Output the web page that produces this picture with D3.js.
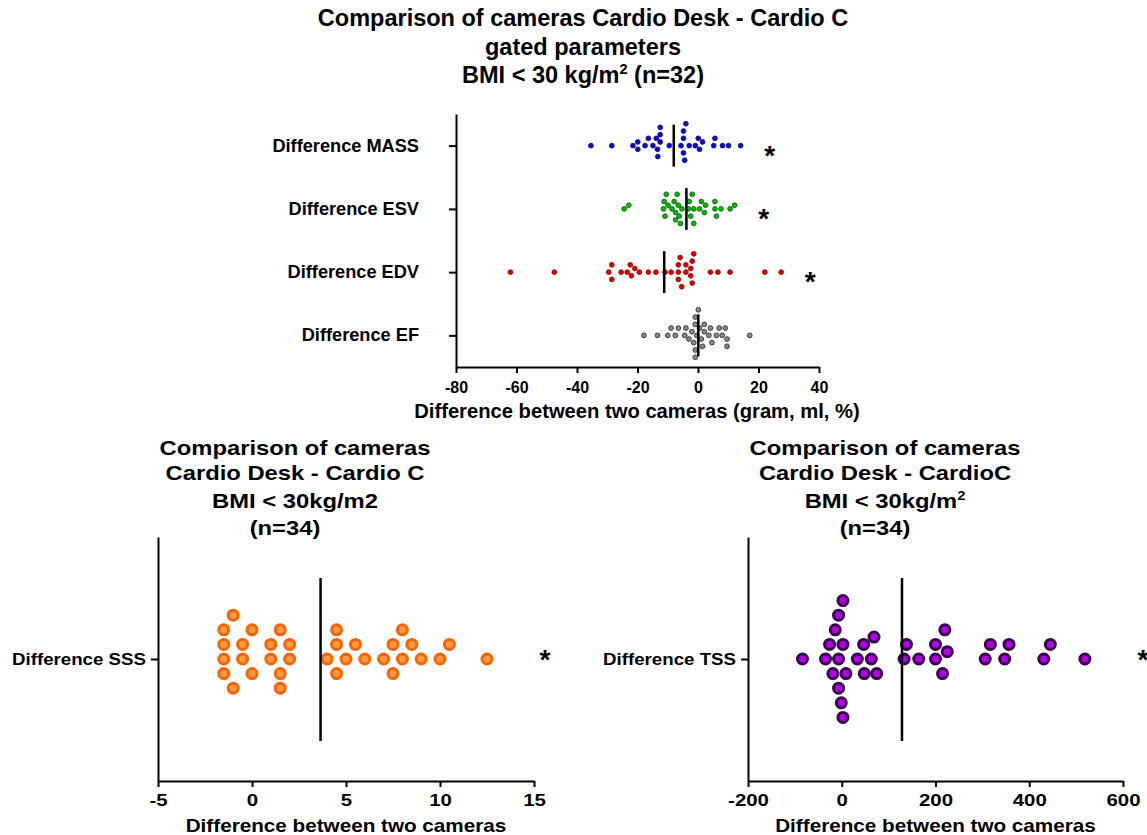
<!DOCTYPE html>
<html>
<head>
<meta charset="utf-8">
<script src="https://cdn.jsdelivr.net/npm/d3@7"></script>
<style>
  body { margin: 0; background: #fff; }
  text { font-family: "Liberation Sans", Arial, sans-serif; font-weight: bold; fill: #000; }
  .axis path, .axis line { stroke: #000; stroke-width: 2; }
</style>
</head>
<body>
<div class="root"></div>
<script>
// top panel: gated parameters
var topCategories = ['Difference MASS', 'Difference ESV', 'Difference EDV', 'Difference EF'];
var massValues = [-35.4, -28.5, -21.5, -19.9, -19.9, -17.5, -16.4, -14.9, -13.8, -13.4, -13.3,
  -12.5, -12.5, -12.5, -9.5, -5.6, -4.8, -4.4, -4.8, -4.8, -4.0, -2.9, -0.9, 0.1, 0.5, 1.5,
  5.2, 5.6, 8.1, 10.1, 14.1];
var esvValues = [-24.4, -22.9, -11.4, -11.2, -10.9, -10.5, -9.9, -8.6, -7.9, -7.4, -7.4, -6.9,
  -6.5, -6.2, -5.8, -5.3, -3.2, -2.9, -2.4, -1.9, -1.4, -1.4, 0.5, 1.1, 2.1, 2.5, 5.6, 5.6,
  6.1, 7.6, 10.6, 12.1];
var edvValues = [-62, -47.5, -29.5, -28.5, -28.5, -25.4, -23.4, -22.4, -22.0, -20.9, -19.4,
  -16.4, -13.9, -10.9, -8.9, -6.5, -6.5, -6.5, -5.9, -5.4, -4.0, -4.0, -2.4, -2.4, -1.9, -1.9,
  -1.4, 4.1, 6.6, 10.6, 22.1, 27.5];
var efValues = [-17.9, -13.4, -10.0, -8.9, -7.5, -6.5, -4.4, -4.0, -3.0, -2.0, -1.4, -0.9, -0.9,
  -0.9, -0.9, -0.4, 0.1, 0.5, 1.1, 1.5, 2.1, 2.1, 3.6, 4.1, 4.6, 6.1, 7.0, 8.0, 9.0, 9.6, 9.6, 17.1];
var topSeries = [massValues, esvValues, edvValues, efValues];
var topFills = ['#0a0ad2', '#0cb40c', '#e00000', '#8a8a8a'];
var topStrokes = ['#000080', '#005f00', '#8c0000', '#1e1e1e'];
var topTicks = [-80, -60, -40, -20, 0, 20, 40];

// bottom panels
var sssValues = [-1, -1.5, 0, 1.5, 1, -1.5, -0.5, 2, -1.5, -0.5, 1, 2, 1.5, -1.5, 0, 1.5, -1,
  4.5, 4.5, 5, 4, 5.5, 6, 4.5, 7, 7.5, 8, 8, 7.5, 8.5, 9, 10, 10.5, 12.5];
var sssTicks = [-5, 0, 5, 10, 15];
var tssValues = [-83.8, -34.6, -26, -18.9, -13.9, -6.8, -6.8, -6.8, -1, 2.5, 2.5, 2.5, 8.9,
  33.2, 46.7, 48.1, 63.1, 68.8, 74.5, 133, 138, 164.3, 200, 200, 215, 220, 225, 306, 317,
  347.6, 356.8, 431, 445, 518.7];
var tssTicks = [-200, 0, 200, 400, 600];

var w = 1147, h = 835;
var svg = d3.select('.root').append('svg').attr('width', w).attr('height', h);

function stretchText(sel, sx) {
  sel.each(function() {
    var t = d3.select(this);
    var x0 = +t.attr('x') || 0;
    t.attr('x', 0).attr('transform', 'translate(' + x0 + ',0) scale(' + sx + ',1)');
  });
}

function label(x, y, txt, size, sx, anchor) {
  return svg.append('text')
    .attr('transform', 'translate(' + x + ',' + y + ') scale(' + sx + ',1)')
    .attr('text-anchor', anchor || 'middle')
    .attr('font-size', size)
    .text(txt);
}

function labelSup(x, y, before, sup, after, size, sx) {
  var t = label(x, y, '', size, sx);
  t.append('tspan').text(before);
  t.append('tspan').attr('font-size', size * 0.62).attr('dy', -size * 0.38).text(sup);
  t.append('tspan').attr('dy', size * 0.38).text(after);
  return t;
}

// greedy beeswarm: keep x exact, shift vertically in steps until no overlap
function swarm(values, x, r, step, tight) {
  var pts = values.map(function(v) { return {v: v, x: x(v)}; })
    .sort(function(a, b) { return a.x - b.x; });
  var placed = [];
  var dmin = 2 * r * tight;
  pts.forEach(function(p) {
    for (var k = 0; k < 50; k++) {
      var offs = k === 0 ? [0] : [-k * step, k * step];
      var found = null;
      for (var i = 0; i < offs.length; i++) {
        var o = offs[i];
        var ok = placed.every(function(q) {
          return Math.hypot(q.x - p.x, q.o - o) >= dmin;
        });
        if (ok) { found = o; break; }
      }
      if (found !== null) { p.o = found; placed.push(p); break; }
    }
  });
  return pts;
}

var fmt = function(d) { return String(d); };

// ---------- top panel ----------
var xTop = d3.scaleLinear().domain([-80, 40]).range([456, 819]);
var yTop = d3.scalePoint().domain(topCategories).range([114, 367]).padding(0.5);

svg.append('g').attr('class', 'axis')
  .attr('transform', 'translate(0,367)')
  .call(d3.axisBottom(xTop).tickValues(topTicks).tickFormat(fmt)
    .tickSize(6).tickSizeOuter(0).tickPadding(9))
  .call(function(g) {
    g.selectAll('text').attr('font-size', 16).attr('font-family', null);
  });

svg.append('g').attr('class', 'axis')
  .attr('transform', 'translate(456,0)')
  .call(d3.axisLeft(yTop).tickSize(7).tickSizeOuter(0).tickPadding(30))
  .call(function(g) {
    g.selectAll('text').attr('font-size', 17.5).attr('font-family', null);
    stretchText(g.selectAll('text'), 1.04);
  });

topSeries.forEach(function(vals, i) {
  var cy = yTop(topCategories[i]);
  var pts = swarm(vals, xTop, 2.7, 3.65, 0.92);
  svg.append('g').selectAll('circle')
    .data(pts).enter().append('circle')
    .attr('cx', function(d) { return d.x; })
    .attr('cy', function(d) { return cy + d.o; })
    .attr('r', 2.4)
    .attr('fill', topFills[i])
    .attr('stroke', topStrokes[i])
    .attr('stroke-width', 0.8);
  var m = d3.mean(vals);
  svg.append('line')
    .attr('x1', xTop(m)).attr('x2', xTop(m))
    .attr('y1', cy - 21).attr('y2', cy + 21)
    .attr('stroke', '#000').attr('stroke-width', 2.5);
  if (i < 3) {
    label(xTop(d3.max(vals)) + 29, cy + 19, '*', 28, 1);
  }
});

label(583, 26, 'Comparison of cameras Cardio Desk - Cardio C', 24.5, 0.96);
label(583, 55, 'gated parameters', 24.5, 0.96);
labelSup(583, 83, 'BMI < 30 kg/m', '2', ' (n=32)', 24.5, 0.96);
label(637, 418, 'Difference between two cameras (gram, ml, %)', 20, 1.01);

// ---------- bottom panels ----------
function bottomPanel(opts) {
  var x = d3.scaleLinear().domain(opts.domain).range(opts.range);
  var y = d3.scalePoint().domain([opts.category]).range([537, 781]).padding(0.5);
  var sx = 1.16;

  svg.append('g').attr('class', 'axis')
    .attr('transform', 'translate(0,781)')
    .call(d3.axisBottom(x).tickValues(opts.ticks).tickFormat(fmt)
      .tickSize(6).tickSizeOuter(0).tickPadding(7))
    .call(function(g) {
      g.selectAll('text').attr('font-size', 17).attr('font-family', null);
      stretchText(g.selectAll('text'), 1.2);
    });

  svg.append('g').attr('class', 'axis')
    .attr('transform', 'translate(' + opts.range[0] + ',0)')
    .call(d3.axisLeft(y).tickSize(7).tickSizeOuter(0).tickPadding(5))
    .call(function(g) {
      g.selectAll('text').attr('font-size', 17).attr('font-family', null);
      stretchText(g.selectAll('text'), 1.1);
    });

  var cy = y(opts.category);
  var pts = swarm(opts.values, x, 6.5, 7.3, 0.92);
  svg.append('g').selectAll('circle')
    .data(pts).enter().append('circle')
    .attr('cx', function(d) { return d.x; })
    .attr('cy', function(d) { return cy + d.o; })
    .attr('r', 5)
    .attr('fill', opts.fill)
    .attr('stroke', opts.stroke)
    .attr('stroke-width', 3);

  var m = d3.mean(opts.values);
  svg.append('line')
    .attr('x1', x(m)).attr('x2', x(m))
    .attr('y1', cy - 81).attr('y2', cy + 82)
    .attr('stroke', '#000').attr('stroke-width', 2.5);

  label(x(d3.max(opts.values)) + 58, cy + 10, '*', 28, 1);

  var cx = opts.titleX;
  label(cx, 455, 'Comparison of cameras', 20.5, sx);
  label(cx, 480, opts.line2, 20.5, sx);
  if (opts.sup) {
    labelSup(cx, 508, 'BMI < 30kg/m', '2', '', 20.5, sx);
  } else {
    label(cx, 508, 'BMI < 30kg/m2', 20.5, sx);
  }
  label(cx - 10, 535, '(n=34)', 20.5, sx);
  label((opts.range[0] + opts.range[1]) / 2, 832, 'Difference between two cameras', 18, 1.15);
}

bottomPanel({
  domain: [-5, 15], range: [158, 534], ticks: sssTicks,
  category: 'Difference SSS', values: sssValues,
  fill: '#ff9a45', stroke: '#ff6200',
  titleX: 295, line2: 'Cardio Desk - Cardio C', sup: false
});

bottomPanel({
  domain: [-200, 600], range: [748, 1123], ticks: tssTicks,
  category: 'Difference TSS', values: tssValues,
  fill: '#b400e6', stroke: '#3c0050',
  titleX: 885, line2: 'Cardio Desk - CardioC', sup: true
});
</script>
</body>
</html>
